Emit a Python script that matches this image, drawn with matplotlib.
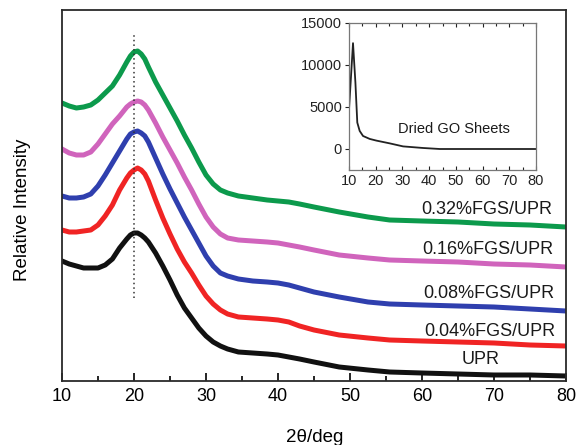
import matplotlib
matplotlib.use("Agg")
import matplotlib.pyplot as plt
from matplotlib.ticker import MultipleLocator

plt.rcParams['font.family'] = ['Liberation Sans', 'DejaVu Sans']

# 2-theta sampling shared by all XRD patterns
two_theta = [10, 11, 12, 13, 14, 15, 16, 17, 18, 19, 19.5, 20, 20.5, 21, 21.5,
             22, 23, 24, 25, 26, 27, 28, 29, 30, 31, 32, 33, 34.5, 36.5, 38.5,
             40, 41.5, 43, 45, 48.5, 52.5, 55.5, 60, 65, 70, 75, 80]

# stacked intensities (arb. units, offsets included)
upr = [120, 117, 115, 113, 113, 113, 116, 122, 133, 142, 146, 148, 148, 146, 143,
       139, 128, 115, 101, 86, 73, 63, 53, 45, 39, 35, 32, 29, 28, 27,
       26, 24, 22, 19, 14, 11, 9, 8, 7, 6, 6, 5]
fgs_004 = [151, 149, 149, 150, 151, 156, 165, 176, 191, 203, 208, 211, 213, 211, 207,
           200, 181, 163, 147, 132, 119, 108, 96, 85, 77, 71, 67, 64, 63, 62,
           61, 59, 55, 51, 46, 43, 41, 40, 39, 38, 36, 35]
fgs_008 = [185, 183, 183, 184, 187, 195, 206, 218, 230, 242, 247, 249, 250, 248, 245,
           239, 223, 207, 192, 178, 164, 151, 138, 125, 115, 108, 105, 102, 100, 99,
           98, 96, 93, 89, 84, 79, 77, 76, 75, 74, 72, 70]
fgs_016 = [232, 228, 226, 226, 229, 237, 247, 257, 265, 274, 277, 279, 280, 279, 276,
           271, 258, 244, 231, 218, 204, 191, 177, 164, 154, 147, 143, 141, 140, 139,
           138, 136, 134, 131, 126, 123, 121, 120, 119, 117, 116, 114]
fgs_032 = [278, 275, 273, 274, 276, 281, 288, 295, 306, 319, 325, 329, 330, 327, 322,
           314, 299, 286, 273, 260, 246, 233, 219, 206, 197, 191, 188, 185, 183, 181,
           180, 179, 177, 174, 169, 164, 161, 160, 159, 157, 156, 154]

labels = ['UPR', '0.04%FGS/UPR', '0.08%FGS/UPR', '0.16%FGS/UPR', '0.32%FGS/UPR']
colors = ['#111111', '#f02424', '#2f3fae', '#d064bc', '#0c9a4c']

# inset: dried graphite oxide sheets
go_theta = [10, 11.5, 12.4, 13.1, 14, 15.25, 17.75, 20.25, 25.25, 30.25, 37.75,
            44, 50, 60, 70, 80]
go_counts = [4700, 12600, 7900, 3150, 2150, 1550, 1200, 1000, 670, 310, 120,
             0, 0, 0, 0, 0]

fig = plt.figure(figsize=(5.79, 4.45), dpi=100)
ax = fig.add_axes([62/579, 64/445, 504/579, 371/445])

for y, c in zip([upr, fgs_004, fgs_008, fgs_016, fgs_032], colors):
    ax.plot(two_theta, y, color=c, lw=3.6, solid_joinstyle='round')

ax.plot([20, 20], [83, 348], color='#333333', lw=1.1, ls=(0, (1, 2)))

ax.set_xlim(10, 80)
ax.set_ylim(0, 371)
ax.set_yticks([])
ax.xaxis.set_major_locator(MultipleLocator(10))
ax.xaxis.set_minor_locator(MultipleLocator(5))
ax.tick_params(axis='x', which='major', direction='in', length=6, width=1.2,
               labelsize=13, pad=5)
ax.tick_params(axis='x', which='minor', direction='in', length=3.5, width=1.2)
for s in ax.spines.values():
    s.set_color('#2a2a2a')
    s.set_linewidth(1.3)

ax.set_xlabel('2\u03b8/deg', fontsize=13.5, va='center')
ax.xaxis.set_label_coords(0.502, -0.151)
ax.set_ylabel('Relative Intensity', fontsize=13.5, va='center')
ax.yaxis.set_label_coords(-0.079, 0.461)

txt = dict(fontsize=13, color='#1a1a1a', va='center')
ax.text(78.1, 171, labels[4], ha='right', **txt)
ax.text(78.2, 131, labels[3], ha='right', **txt)
ax.text(78.4, 87, labels[2], ha='right', **txt)
ax.text(78.5, 49, labels[1], ha='right', **txt)
ax.text(68.1, 21, labels[0], ha='center', **txt)

ins = fig.add_axes([349/579, 275/445, 187/579, 147/445])
ins.plot(go_theta, go_counts, color='#222222', lw=1.3)
ins.set_xlim(10, 80)
ins.set_ylim(-2500, 15000)
ins.set_xticks(range(10, 81, 10))
ins.set_yticks([0, 5000, 10000, 15000])
ins.xaxis.set_minor_locator(MultipleLocator(5))
ins.tick_params(axis='x', which='both', direction='in', top=True, labelsize=10.5,
                length=3, width=0.8, pad=3, colors='#222222')
ins.tick_params(axis='x', which='minor', length=2)
ins.tick_params(axis='y', direction='out', labelsize=10.5, length=3, width=0.8,
                pad=2, colors='#222222')
for s in ins.spines.values():
    s.set_color('#777777')
    s.set_linewidth(0.9)
ins.text(0.56, 0.28, 'Dried GO Sheets', transform=ins.transAxes, ha='center',
         va='center', fontsize=10.5, color='#1a1a1a')

fig.savefig('out.png', dpi=100)
